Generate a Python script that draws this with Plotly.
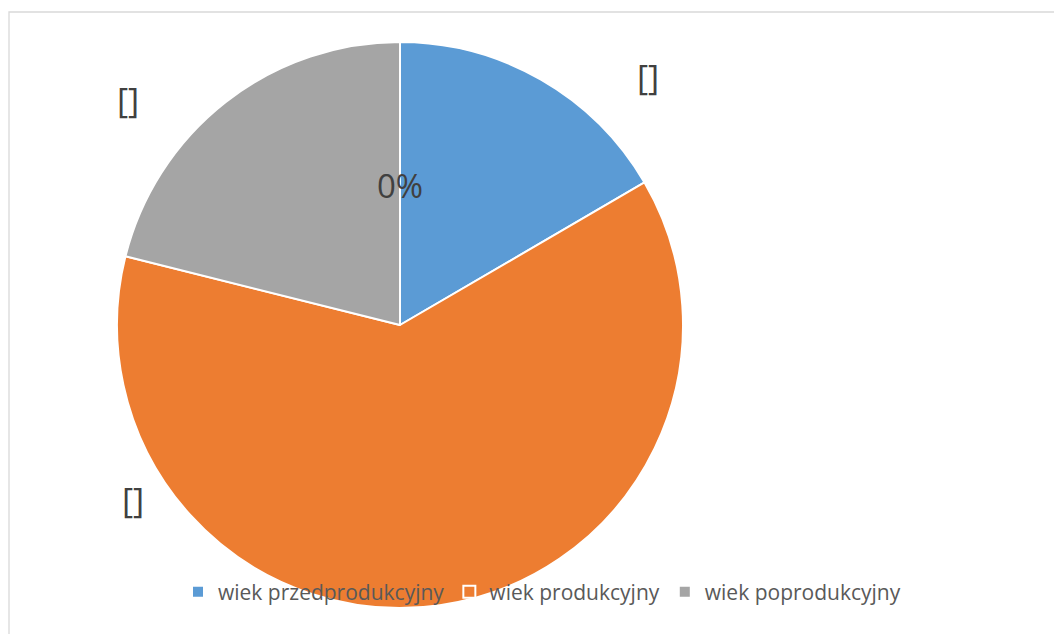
import plotly.graph_objects as go

categories = ["wiek przedprodukcyjny", "wiek produkcyjny", "wiek poprodukcyjny"]
values = [16.6, 62.3, 21.1]
colors = ["#5B9BD5", "#ED7D31", "#A5A5A5"]
label_texts = ["[]", "[]", "[]", "0%"]

W, H = 1062, 634
OFF = 8  # page margin offset in the screenshot
cx, cy, r = 400 - OFF, 325 - OFF, 283

fig = go.Figure()
fig.add_trace(go.Pie(
    labels=categories,
    values=values,
    marker=dict(colors=colors, line=dict(color="white", width=2)),
    sort=False,
    direction="clockwise",
    rotation=0,
    textinfo="none",
    hoverinfo="label+percent",
    domain=dict(x=[(cx - r) / W, (cx + r) / W], y=[1 - (cy + r) / H, 1 - (cy - r) / H]),
))

# label positions (screen pixels)
label_pos = [(648, 77), (133, 500), (128, 100), (400, 185)]
font_sizes = [34, 34, 34, 33]
for (px, py), t, fs in zip(label_pos, label_texts, font_sizes):
    fig.add_annotation(x=(px - OFF) / W, y=1 - (py - OFF) / H, xref="paper", yref="paper",
                       text=t, showarrow=False, xanchor="center", yanchor="middle",
                       font=dict(family="Open Sans", size=fs, color="#404040"))

fig.add_shape(type="rect", xref="paper", yref="paper",
              x0=1 / W, x1=1.02, y0=-0.02, y1=1 - (12 - OFF) / H,
              line=dict(color="#D9D9D9", width=1.3), fillcolor="rgba(0,0,0,0)")

fig.update_layout(
    width=W, height=H,
    margin=dict(l=0, r=0, t=0, b=0),
    paper_bgcolor="white",
    plot_bgcolor="white",
    showlegend=True,
    legend=dict(orientation="h", x=(178 - OFF) / W, y=1 - (592 - OFF) / H, xanchor="left", yanchor="middle",
                bgcolor="rgba(0,0,0,0)", font=dict(family="Open Sans", size=21, color="#595959"),
                itemwidth=30),
)

fig.write_html("out.html")
